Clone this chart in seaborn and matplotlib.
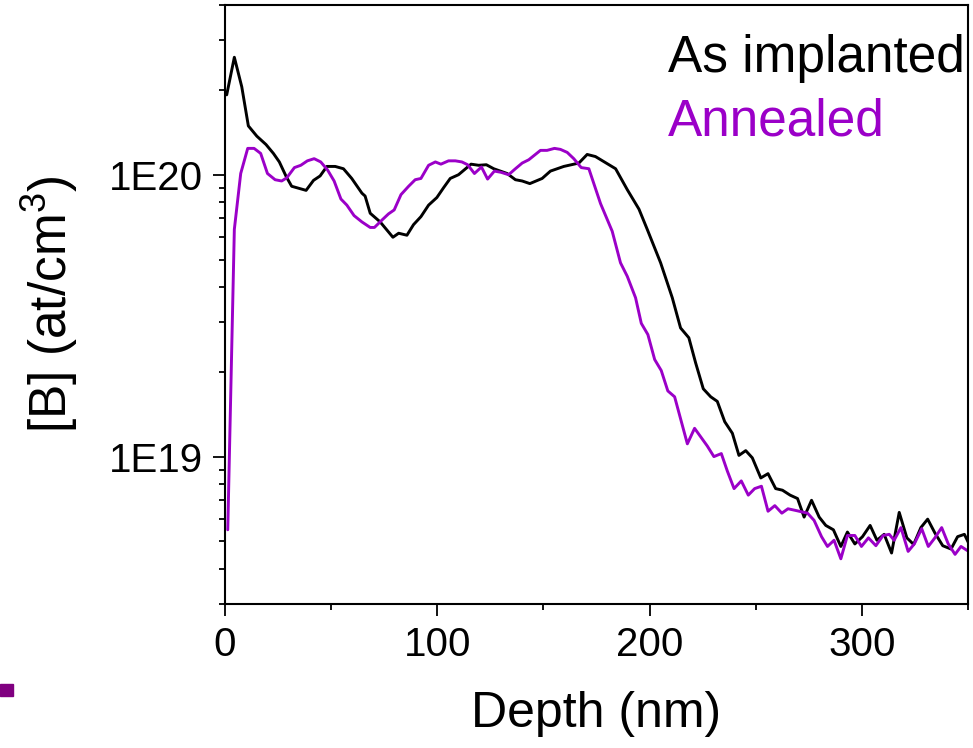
import numpy as np
import pandas as pd
import matplotlib
matplotlib.use("Agg")
import matplotlib.pyplot as plt
import matplotlib.ticker as mticker
from matplotlib.patches import Rectangle
import seaborn as sns

# ---------------- data ----------------
implanted_depth = [0.8, 4.4, 7.9, 11.0, 15.0, 19.3, 22.8, 25.6, 28.8, 31.4, 38.2, 41.7,
                   44.8, 48.0, 51.9, 55.8, 59.7, 64.5, 66.0, 68.4, 73.1, 79.1, 81.8, 85.7,
                   88.8, 92.3, 95.9, 99.8, 103.0, 106.1, 110.0, 115.9, 119.5, 123.1, 126.6,
                   132.9, 136.8, 140.0, 143.6, 149.4, 153.3, 159.6, 166.7, 170.6, 174.5,
                   184.0, 189.5, 195.0, 198.9, 205.2, 210.7, 214.6, 218.5, 221.7, 225.3,
                   228.8, 231.9, 235.4, 239.0, 242.1, 245.3, 248.4, 252.4, 255.8, 259.4,
                   262.6, 266.2, 269.7, 272.8, 276.3, 279.9, 283.0, 286.6, 290.1, 293.2,
                   296.7, 300.3, 303.9, 307.1, 310.5, 314.0, 317.6, 321.2, 324.4, 327.8,
                   331.0, 334.4, 338.1, 342.0, 345.1, 348.3, 350.5]
implanted_conc = [1.92e20, 2.61e20, 2.05e20, 1.49e20, 1.37e20, 1.28e20, 1.19e20, 1.11e20,
                  0.986e20, 0.91e20, 0.88e20, 0.955e20, 0.99e20, 1.07e20, 1.07e20, 1.05e20,
                  0.97e20, 0.86e20, 0.84e20, 0.73e20, 0.68e20, 0.60e20, 0.62e20, 0.61e20,
                  0.665e20, 0.71e20, 0.78e20, 0.83e20, 0.90e20, 0.97e20, 1.0e20, 1.09e20,
                  1.08e20, 1.085e20, 1.05e20, 1.01e20, 0.96e20, 0.95e20, 0.93e20, 0.97e20,
                  1.03e20, 1.07e20, 1.10e20, 1.18e20, 1.16e20, 1.05e20, 0.885e20, 0.755e20,
                  0.64e20, 0.487e20, 0.366e20, 0.286e20, 0.264e20, 0.215e20, 0.174e20,
                  0.163e20, 0.157e20, 0.133e20, 0.121e20, 1.01e19, 1.05e19, 0.99e19,
                  0.84e19, 0.87e19, 0.77e19, 0.76e19, 0.73e19, 0.71e19, 0.61e19, 0.70e19,
                  0.61e19, 0.57e19, 0.55e19, 0.48e19, 0.54e19, 0.49e19, 0.52e19, 0.57e19,
                  0.505e19, 0.53e19, 0.455e19, 0.634e19, 0.515e19, 0.488e19, 0.56e19,
                  0.60e19, 0.536e19, 0.483e19, 0.47e19, 0.52e19, 0.53e19, 0.49e19]

annealed_depth = [1.3, 4.4, 7.4, 10.7, 13.7, 16.8, 20.0, 23.6, 26.7, 29.1, 32.7, 35.7,
                  38.8, 42.0, 45.1, 48.3, 51.4, 54.6, 57.4, 60.8, 64.5, 68.4, 70.4, 73.9,
                  77.0, 79.7, 82.9, 86.5, 89.6, 92.3, 95.9, 99.1, 101.7, 105.3, 108.5,
                  111.6, 114.3, 117.5, 120.8, 123.7, 126.9, 130.0, 133.6, 136.8, 140.0,
                  143.1, 146.2, 148.6, 151.7, 155.2, 158.0, 161.2, 164.3, 167.8, 171.4,
                  176.9, 182.4, 186.3, 189.5, 193.4, 196.1, 199.2, 202.4, 205.5, 208.6,
                  211.8, 217.8, 221.2, 227.2, 230.3, 233.8, 236.6, 239.8, 243.2, 246.5,
                  249.5, 252.7, 255.8, 259.0, 262.3, 265.2, 268.9, 274.4, 277.5, 281.0,
                  283.8, 286.9, 290.1, 293.2, 296.7, 299.8, 303.1, 306.6, 310.0, 312.9,
                  315.2, 318.4, 321.8, 324.7, 328.2, 331.3, 334.4, 337.6, 340.7, 343.9,
                  346.7, 350.5]
annealed_conc = [0.55e19, 0.64e20, 1.01e20, 1.24e20, 1.24e20, 1.19e20, 1.01e20, 0.96e20,
                 0.95e20, 0.975e20, 1.06e20, 1.08e20, 1.12e20, 1.14e20, 1.11e20, 1.04e20,
                 0.95e20, 0.82e20, 0.78e20, 0.716e20, 0.68e20, 0.65e20, 0.65e20, 0.69e20,
                 0.726e20, 0.75e20, 0.85e20, 0.91e20, 0.96e20, 0.97e20, 1.08e20, 1.11e20,
                 1.09e20, 1.12e20, 1.12e20, 1.11e20, 1.085e20, 1.01e20, 1.065e20, 0.965e20,
                 1.03e20, 1.02e20, 1.0e20, 1.05e20, 1.10e20, 1.13e20, 1.18e20, 1.22e20,
                 1.22e20, 1.24e20, 1.23e20, 1.20e20, 1.14e20, 1.06e20, 1.05e20, 0.79e20,
                 0.63e20, 0.487e20, 0.436e20, 0.366e20, 0.297e20, 0.271e20, 0.221e20,
                 0.202e20, 0.171e20, 0.163e20, 0.111e20, 0.126e20, 0.109e20, 1.0e19,
                 1.025e19, 0.89e19, 0.77e19, 0.82e19, 0.73e19, 0.77e19, 0.785e19, 0.64e19,
                 0.67e19, 0.63e19, 0.653e19, 0.644e19, 0.63e19, 0.594e19, 0.52e19, 0.48e19,
                 0.505e19, 0.434e19, 0.525e19, 0.525e19, 0.48e19, 0.515e19, 0.483e19,
                 0.525e19, 0.53e19, 0.505e19, 0.56e19, 0.461e19, 0.49e19, 0.555e19, 0.48e19,
                 0.515e19, 0.56e19, 0.49e19, 0.45e19, 0.48e19, 0.46e19]

series_names = ["As implanted", "Annealed"]
series_colors = ["#000000", "#9B00C8"]
x_ticks = [0, 100, 200, 300]
y_ticks = [1e19, 1e20]
y_tick_labels = ["1E19", "1E20"]

df = pd.concat([
    pd.DataFrame({"depth": implanted_depth, "conc": implanted_conc, "sample": series_names[0]}),
    pd.DataFrame({"depth": annealed_depth, "conc": annealed_conc, "sample": series_names[1]}),
], ignore_index=True)

# ---------------- style ----------------
sns.set_style("ticks", {"text.color": "black", "axes.labelcolor": "black",
                        "xtick.color": "black", "ytick.color": "black",
                        "axes.edgecolor": "black"})
plt.rcParams["font.family"] = ["Liberation Sans", "DejaVu Sans"]
plt.rcParams["mathtext.fontset"] = "custom"
plt.rcParams["mathtext.rm"] = "Liberation Sans"
plt.rcParams["mathtext.it"] = "Liberation Sans:italic"

fig = plt.figure(figsize=(9.73, 7.48), dpi=100)
ax = fig.add_axes([225 / 973, 1 - 604 / 748, (968 - 225) / 973, (604 - 5) / 748])

sns.lineplot(data=df, x="depth", y="conc", hue="sample",
             palette=dict(zip(series_names, series_colors)),
             estimator=None, sort=False, legend=False, linewidth=2.1, ax=ax)

ax.set_yscale("log")
ax.set_xlim(0, 350)
ax.set_ylim(3.0e18, 4.0e20)

ax.xaxis.set_major_locator(mticker.FixedLocator(x_ticks))
ax.xaxis.set_minor_locator(mticker.MultipleLocator(50))
ax.yaxis.set_major_locator(mticker.FixedLocator(y_ticks))
ax.yaxis.set_major_formatter(mticker.FixedFormatter(y_tick_labels))
ax.yaxis.set_minor_locator(mticker.LogLocator(base=10, subs=np.arange(2, 10)))
ax.yaxis.set_minor_formatter(mticker.NullFormatter())

ax.tick_params(axis="both", which="major", direction="out", length=8.6, width=1.3,
               labelsize=29, pad=7, top=False, right=False, colors="black",
               labelcolor="black")
ax.tick_params(axis="both", which="minor", direction="out", length=4.3, width=1.3,
               top=False, right=False, colors="black")

for s in ax.spines.values():
    s.set_linewidth(1.5)
    s.set_color("black")

ax.set_xlabel("Depth (nm)", fontsize=36, labelpad=20, color="black")
ax.set_ylabel(r"[B] (at/cm$^\mathregular{3}$)", fontsize=37, labelpad=21, color="black")

fig.text(668 / 973, 1 - 72 / 748, series_names[0], color=series_colors[0],
         fontsize=37, va="baseline", ha="left")
fig.text(668 / 973, 1 - 135 / 748, series_names[1], color=series_colors[1],
         fontsize=37, va="baseline", ha="left")

# small stray square mark at the lower left of the reference
fig.patches.append(Rectangle((0, 1 - 696 / 748), 13 / 973, 12 / 748,
                             transform=fig.transFigure, color="#800080"))

fig.savefig("out.png", dpi=100)
